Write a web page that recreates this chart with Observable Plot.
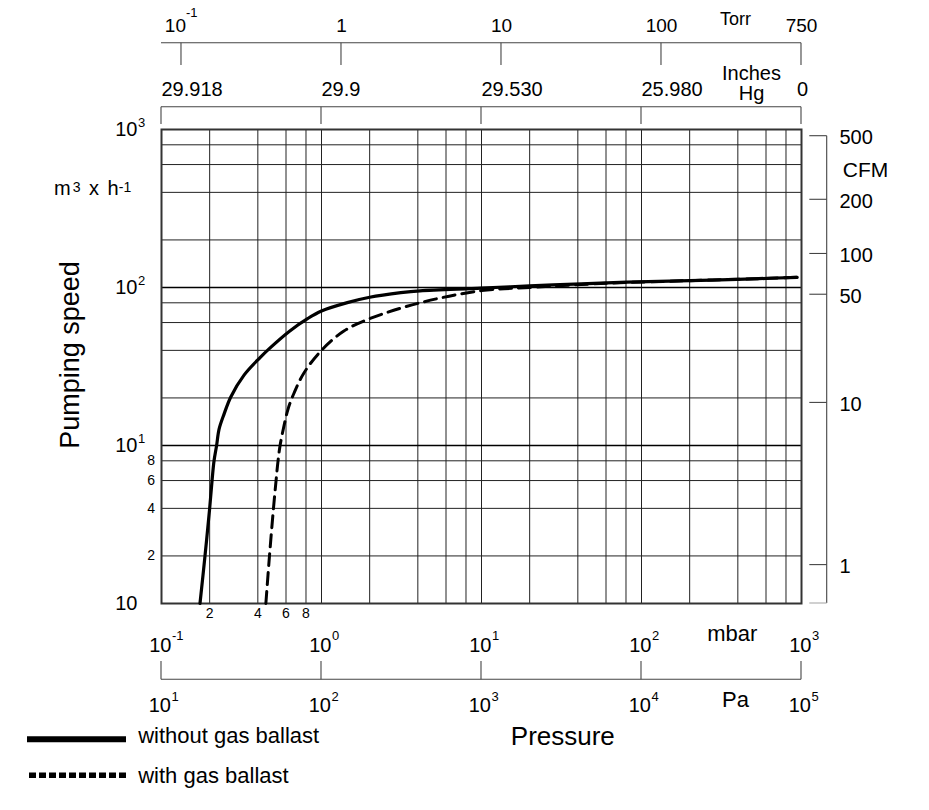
<!DOCTYPE html>
<html>
<head>
<meta charset="utf-8">
<script src="https://cdn.jsdelivr.net/npm/d3@7"></script>
<script src="https://cdn.jsdelivr.net/npm/@observablehq/plot@0.6"></script>
<style>
  html, body { margin: 0; padding: 0; background: #fff; }
  svg { display: block; }
</style>
</head>
<body>
<div id="chart"></div>
<script>
// ---------------- data ----------------
const seriesNames = ["without gas ballast", "with gas ballast"];

// pressure in mbar, pumping speed in m3/h
const pressureSolid = [0.174, 0.187, 0.200, 0.207, 0.213, 0.221, 0.229, 0.246, 0.271, 0.328, 0.413, 0.47, 0.634, 0.818, 1.0, 1.45, 2.0, 3.13, 4.13, 10, 20, 42, 81, 200, 500, 940];
const speedSolid    = [1, 2, 4, 6, 8, 10, 12.7, 15.8, 20.3, 27.9, 36, 40.9, 53.1, 63.5, 71, 80.2, 86.7, 92.7, 95.3, 99, 102.5, 105.5, 108, 110.5, 113.5, 116];

const pressureDashed = [0.449, 0.473, 0.501, 0.520, 0.535, 0.551, 0.579, 0.618, 0.674, 0.78, 1.0, 1.38, 2.0, 4.13, 10, 20, 42, 81, 200, 500, 940];
const speedDashed    = [1, 2, 4, 6, 8, 10, 12.9, 17, 21.5, 29, 40, 53, 63.5, 80, 95.6, 100, 104.5, 107.5, 110.5, 113.5, 116];

// grid lines
const xGrid = [0.2, 0.4, 0.6, 0.8, 1, 2, 4, 6, 8, 10, 20, 40, 60, 80, 100, 200, 400, 600, 800];
const yGrid = [2, 4, 6, 8, 20, 40, 60, 80, 200, 400, 600, 800];
const yMajorGrid = [10, 100];

// bottom axes (mbar / Pa)
const mbarDecades = [0.1, 1, 10, 100, 1000];
const mbarExponents = ["-1", "0", "1", "2", "3"];
const paExponents = ["1", "2", "3", "4", "5"];
const minorXTicks = [0.2, 0.4, 0.6, 0.8];
const minorXLabels = ["2", "4", "6", "8"];

// top axes (Torr / Inches Hg)
const torrValues = [0.1, 1, 10, 100, 750];
const torrLabels = ["10", "1", "10", "100", "750"];
const torrExponents = ["-1", "", "", "", ""];
const TORR_TO_MBAR = 1.33322;
const inHgAtMbar = [0.1, 1, 10, 100, 1000];
const inHgLabels = ["29.918", "29.9", "29.530", "25.980", "0"];

// left axis (m3/h)
const speedDecades = [1, 10, 100, 1000];
const speedExponents = ["", "1", "2", "3"];
const minorYTicks = [2, 4, 6, 8];
const minorYLabels = ["2", "4", "6", "8"];

// right axis (CFM) with the m3/h value each tick sits at in the picture
const cfmLabels = ["1", "10", "50", "100", "200", "500"];
const cfmAtSpeed = [1.75, 18.6, 90, 163, 359, 907];

// ---------------- layout ----------------
const W = 929, H = 810;
const M = {top: 129, right: 128, bottom: 207, left: 161};
const FONT = "'Liberation Sans', Arial, Helvetica, sans-serif";

const solid = pressureSolid.map((p, i) => ({p, s: speedSolid[i]}));
const dashed = pressureDashed.map((p, i) => ({p, s: speedDashed[i]}));
const torr = torrValues.map((t, i) => ({mbar: t * TORR_TO_MBAR, label: torrLabels[i], exp: torrExponents[i]}));
const inHg = inHgAtMbar.map((m, i) => ({mbar: m, label: inHgLabels[i], last: i === inHgAtMbar.length - 1}));
const cfm = cfmLabels.map((l, i) => ({label: l, s: cfmAtSpeed[i]}));
const mbarTicks = mbarDecades.map((m, i) => ({m, mExp: mbarExponents[i], pExp: paExponents[i]}));
const speedTicks = speedDecades.map((s, i) => ({s, exp: speedExponents[i]}));

// custom mark: secondary axes lines, legend swatches, unit labels
function extras(index, scales) {
  const x = scales.x, y = scales.y;
  const g = d3.create("svg:g").attr("font-family", FONT);
  const lines = g.append("g").attr("stroke", "#444").attr("stroke-width", 1.1).attr("fill", "none");
  const seg = (x1, y1, x2, y2, sel = lines) => sel.append("line").attr("x1", x1).attr("y1", y1).attr("x2", x2).attr("y2", y2);
  const xa = x(0.1), xb = x(1000);

  // Torr axis
  seg(xa, 42.7, xb, 42.7);
  for (const t of torr) seg(x(t.mbar), 42.7, x(t.mbar), 65);
  // Inches Hg axis
  seg(xa, 106.7, xb, 106.7);
  for (const d of inHg) seg(x(d.mbar), 106.7, x(d.mbar), 124);
  // mbar / Pa axis
  seg(xa, 679.3, xb, 679.3);
  for (const d of mbarTicks) seg(x(d.m), 661, x(d.m), 679.3);
  // CFM axis
  const cx = 826.7;
  seg(cx, y(d3.max(cfmAtSpeed)), cx, y(1));
  for (const d of cfm) seg(cx - 17.4, y(d.s), cx, y(d.s));
  seg(cx - 17.4, y(1), cx, y(1)).attr("stroke", "#aaa");

  // legend swatches
  const lg = g.append("g").attr("stroke", "#000").attr("fill", "none");
  seg(27, 739.3, 126, 739.3, lg).attr("stroke-width", 6);
  seg(29, 775.3, 128, 775.3, lg).attr("stroke-width", 5.5).attr("stroke-dasharray", "7,3");

  // y title
  g.append("text")
    .attr("transform", "translate(79,355) rotate(-90)")
    .attr("text-anchor", "middle")
    .attr("font-size", 27)
    .attr("fill", "#000")
    .text("Pumping speed");

  // unit m3 x h-1
  const u = g.append("text").attr("x", 54).attr("y", 195).attr("font-size", 20)
    .attr("text-anchor", "start").attr("fill", "#000");
  u.append("tspan").text("m");
  u.append("tspan").attr("dx", 2).attr("dy", -3.5).attr("font-size", 14).text("3");
  u.append("tspan").attr("dx", 0).attr("dy", 3.5).attr("word-spacing", 3).text(" x h");
  u.append("tspan").attr("dx", 0).attr("dy", -3.5).attr("font-size", 14).text("-1");
  return g.node();
}

const txt = {fill: "#000"};

const chart = Plot.plot({
  width: W,
  height: H,
  marginTop: M.top,
  marginRight: M.right,
  marginBottom: M.bottom,
  marginLeft: M.left,
  style: {fontFamily: FONT, fontSize: "20px", color: "#000", background: "#fff", overflow: "visible"},
  x: {type: "log", domain: [0.1, 1000], axis: null},
  y: {type: "log", domain: [1, 1000], axis: null},
  marks: [
    // grid
    Plot.ruleX(xGrid, {x: d => d, stroke: "#222", strokeWidth: 1}),
    Plot.ruleY(yGrid, {y: d => d, stroke: "#222", strokeWidth: 1}),
    Plot.ruleY(yMajorGrid, {y: d => d, stroke: "#000", strokeWidth: 1.6}),
    Plot.frame({stroke: "#333", strokeWidth: 2}),

    // curves
    Plot.line(solid, {x: "p", y: "s", stroke: "#000", strokeWidth: 3.2, curve: "catmull-rom"}),
    Plot.line(dashed, {x: "p", y: "s", stroke: "#000", strokeWidth: 3, strokeDasharray: "12,7", curve: "catmull-rom"}),

    // left axis labels
    Plot.text(speedTicks, {y: "s", text: () => "10", frameAnchor: "left", dx: -24, textAnchor: "end", fontSize: 20, ...txt}),
    Plot.text(speedTicks, {y: "s", text: "exp", frameAnchor: "left", dx: -23.5, dy: -2.7, textAnchor: "start", lineAnchor: "bottom", fontSize: 13, ...txt}),
    Plot.text(minorYTicks, {y: d => d, text: minorYLabels, frameAnchor: "left", dx: -6.5, textAnchor: "end", fontSize: 14, ...txt}),

    // bottom minor labels
    Plot.text(minorXTicks, {x: d => d, text: minorXLabels, frameAnchor: "bottom", dy: 14, fontSize: 14, ...txt}),

    // mbar labels
    Plot.text(mbarTicks, {x: "m", text: () => "10", frameAnchor: "bottom", dx: 10, dy: 48.7, textAnchor: "end", lineAnchor: "bottom", fontSize: 20, ...txt}),
    Plot.text(mbarTicks, {x: "m", text: "mExp", frameAnchor: "bottom", dx: 10.5, dy: 36.3, textAnchor: "start", lineAnchor: "bottom", fontSize: 13, ...txt}),
    // Pa labels
    Plot.text(mbarTicks, {x: "m", text: () => "10", frameAnchor: "bottom", dx: 9.5, dy: 108.7, textAnchor: "end", lineAnchor: "bottom", fontSize: 20, ...txt}),
    Plot.text(mbarTicks, {x: "m", text: "pExp", frameAnchor: "bottom", dx: 10, dy: 97.5, textAnchor: "start", lineAnchor: "bottom", fontSize: 13, ...txt}),
    Plot.text(["mbar"], {text: d => d, frameAnchor: "bottom-right", dx: -69.3, dy: 37, textAnchor: "middle", lineAnchor: "bottom", fontSize: 22, ...txt}),
    Plot.text(["Pa"], {text: d => d, frameAnchor: "bottom-right", dx: -66, dy: 103.7, textAnchor: "middle", lineAnchor: "bottom", fontSize: 22, ...txt}),
    Plot.text(["Pressure"], {text: d => d, frameAnchor: "bottom", dx: 81.3, dy: 141, textAnchor: "middle", lineAnchor: "bottom", fontSize: 26, ...txt}),

    // Torr labels
    Plot.text(torr.filter(d => d.exp), {x: "mbar", text: "label", frameAnchor: "top", dx: 4.5, dy: -97.3, textAnchor: "end", lineAnchor: "bottom", fontSize: 19, ...txt}),
    Plot.text(torr.filter(d => d.exp), {x: "mbar", text: "exp", frameAnchor: "top", dx: 4.5, dy: -112.3, textAnchor: "start", lineAnchor: "bottom", fontSize: 13, ...txt}),
    Plot.text(torr.filter(d => !d.exp), {x: "mbar", text: "label", frameAnchor: "top", dy: -97.3, textAnchor: "middle", lineAnchor: "bottom", fontSize: 19, ...txt}),
    Plot.text(["Torr"], {text: d => d, frameAnchor: "top-right", dx: -66, dy: -104.7, textAnchor: "middle", lineAnchor: "bottom", fontSize: 18, ...txt}),

    // Inches Hg labels
    Plot.text(inHg.filter(d => !d.last), {x: "mbar", text: "label", frameAnchor: "top", dy: -34, textAnchor: "start", lineAnchor: "bottom", fontSize: 20, ...txt}),
    Plot.text(inHg.filter(d => d.last), {x: "mbar", text: "label", frameAnchor: "top", dx: 1, dy: -34, textAnchor: "middle", lineAnchor: "bottom", fontSize: 20, ...txt}),
    Plot.text(["Inches\nHg"], {text: d => d, frameAnchor: "top-right", dx: -50, dy: -30, textAnchor: "middle", lineAnchor: "bottom", lineHeight: 1, fontSize: 20, ...txt}),

    // CFM labels
    Plot.text(cfm, {y: "s", text: "label", frameAnchor: "right", dx: 38, dy: 1.5, textAnchor: "start", fontSize: 20, ...txt}),
    Plot.text(["CFM"], {text: d => d, frameAnchor: "top-right", dx: 64, dy: 47, textAnchor: "middle", lineAnchor: "bottom", fontSize: 21, ...txt}),

    // legend texts
    Plot.text(seriesNames.slice(0, 1), {text: d => d, frameAnchor: "bottom-left", dx: -23.3, dy: 139.7, textAnchor: "start", lineAnchor: "bottom", fontSize: 22, ...txt}),
    Plot.text(seriesNames.slice(1, 2), {text: d => d, frameAnchor: "bottom-left", dx: -23.3, dy: 179.7, textAnchor: "start", lineAnchor: "bottom", fontSize: 22, ...txt}),

    // secondary axes, legend swatches, titles
    extras
  ]
});

document.getElementById("chart").appendChild(chart);
</script>
</body>
</html>
